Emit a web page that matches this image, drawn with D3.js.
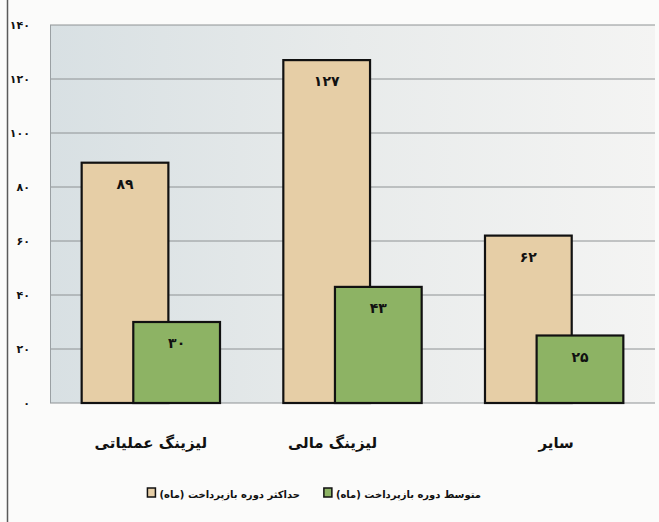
<!DOCTYPE html>
<html><head><meta charset="utf-8">
<script src="https://cdn.jsdelivr.net/npm/d3@7"></script>
<style>
html,body{margin:0;padding:0;background:#fbfbfa;}
svg{display:block;}
text{font-family:"DejaVu Sans",sans-serif;font-weight:bold;fill:#111;}
</style></head>
<body>
<svg id="chart" width="659" height="522"></svg>
<script>
const categories = ["لیزینگ عملیاتی", "لیزینگ مالی", "سایر"];
const maxValues = [89, 127, 62];
const avgValues = [30, 43, 25];
const seriesNames = ["حداکثر دوره بازپرداخت (ماه)", "متوسط دوره بازپرداخت (ماه)"];
const yTicks = [0, 20, 40, 60, 80, 100, 120, 140];

const faDigits = "۰۱۲۳۴۵۶۷۸۹";
const toFa = n => String(n).replace(/[0-9]/g, d => faDigits[+d]);

const svg = d3.select("#chart");
const W = 659, H = 522;
const m = {left: 50, right: 4, top: 25, bottom: 119};
const pw = W - m.left - m.right, ph = H - m.top - m.bottom;

// page left border (scan edge)
svg.append("line").attr("x1", 7.5).attr("x2", 7.5).attr("y1", 0).attr("y2", H)
  .attr("stroke", "#5a5a5a").attr("stroke-width", 1.5);

const defs = svg.append("defs");
const grad = defs.append("linearGradient").attr("id", "bg").attr("x1", "0").attr("x2", "1").attr("y1", "0").attr("y2", "0");
grad.append("stop").attr("offset", "0").attr("stop-color", "#d8e0e3");
grad.append("stop").attr("offset", "0.5").attr("stop-color", "#e8ebeb");
grad.append("stop").attr("offset", "1").attr("stop-color", "#f4f4f3");

const g = svg.append("g").attr("transform", `translate(${m.left},${m.top})`);

const x = d3.scaleBand().domain(categories).range([0, pw]).padding(0);
const y = d3.scaleLinear().domain([0, 140]).range([ph, 0]);

g.append("rect").attr("width", pw).attr("height", ph).attr("fill", "url(#bg)");

// gridlines
g.selectAll("line.grid").data(yTicks).join("line").attr("class", "grid")
  .attr("x1", 0).attr("x2", pw).attr("y1", d => y(d)).attr("y2", d => y(d))
  .attr("stroke", "#8e9294").attr("stroke-width", 1);
g.append("line").attr("x1", 0.5).attr("x2", 0.5).attr("y1", 0).attr("y2", ph)
  .attr("stroke", "#9aa0a3").attr("stroke-width", 1);

// y axis labels
const yAxis = d3.axisLeft(y).tickValues(yTicks).tickSize(0).tickPadding(20).tickFormat(toFa);
const ya = g.append("g").call(yAxis);
ya.select(".domain").remove();
ya.selectAll("text").attr("font-size", 11).attr("font-family", "DejaVu Sans").attr("font-weight", "bold").attr("fill", "#111");

const bw = x.bandwidth() * 0.43;
const off = x.bandwidth() * 0.128;

const series = [
  {name: seriesNames[0], values: maxValues, color: "#e6cea6", dx: -off},
  {name: seriesNames[1], values: avgValues, color: "#8db364", dx: off}
];

series.forEach(s => {
  const gg = g.append("g");
  gg.selectAll("rect").data(categories).join("rect")
    .attr("x", (c) => x(c) + x.bandwidth() / 2 + s.dx - bw / 2)
    .attr("y", (c, i) => y(s.values[i]))
    .attr("width", bw)
    .attr("height", (c, i) => ph - y(s.values[i]))
    .attr("fill", s.color).attr("stroke", "#111").attr("stroke-width", 2.2);
  gg.selectAll("text").data(categories).join("text")
    .attr("x", (c) => x(c) + x.bandwidth() / 2 + s.dx)
    .attr("y", (c, i) => y(s.values[i]) + 26)
    .attr("text-anchor", "middle").attr("font-size", 14)
    .text((c, i) => toFa(s.values[i]));
});

// category labels
const labelShift = [0, -20, 2];
g.selectAll("text.cat").data(categories).join("text").attr("class", "cat")
  .attr("x", (c, i) => x(c) + x.bandwidth() / 2 + labelShift[i])
  .attr("y", ph + 45)
  .attr("text-anchor", "middle").attr("font-size", 15)
  .text(c => c);

// legend (RTL: average on the right, max on the left)
const legend = svg.append("g");
const legItems = [
  {name: seriesNames[1], color: series[1].color, xr: 481},
  {name: seriesNames[0], color: series[0].color, xr: 300}
];
legItems.forEach(it => {
  const t = legend.append("text").attr("x", it.xr).attr("y", 498)
    .attr("direction", "rtl").attr("font-size", 10).text(it.name);
  let bb = t.node().getBBox();
  t.attr("x", it.xr + (it.xr - (bb.x + bb.width)));
  bb = t.node().getBBox();
  legend.append("rect").attr("x", bb.x - 12).attr("y", 488).attr("width", 8).attr("height", 9)
    .attr("fill", it.color).attr("stroke", "#111").attr("stroke-width", 1.5);
});
</script>
</body></html>
